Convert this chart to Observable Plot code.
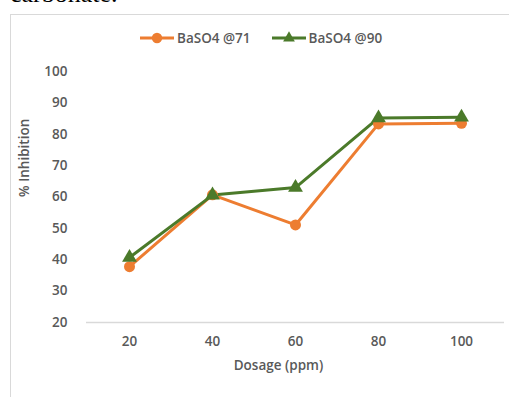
<!DOCTYPE html>
<html>
<head>
<meta charset="utf-8">
<script src="https://cdn.jsdelivr.net/npm/d3@7"></script>
<script src="https://cdn.jsdelivr.net/npm/@observablehq/plot@0.6"></script>
<style>
  html, body { margin: 0; padding: 0; background: #fff; }
  #page { position: relative; width: 509px; height: 397px; overflow: hidden; font-family: "Open Sans", sans-serif; }
  #doctext { position: absolute; left: 10px; top: -21px; font-family: "Liberation Serif", "Times New Roman", serif; font-size: 26px; color: #000; line-height: 30px; }
  #box { position: absolute; left: 10px; top: 14px; width: 520px; height: 400px; border: 1px solid #d9d9d9; box-sizing: border-box; }
  #chart { position: absolute; left: 0; top: 0; }
  #legend { position: absolute; top: 29px; left: 140px; display: flex; align-items: center; font-size: 13.5px; font-weight: 600; color: #595959; }
  #legend .item { display: flex; align-items: center; margin-right: 21px; }
  #legend svg { margin-right: 3px; }
</style>
</head>
<body>
<div id="page">
  <div id="doctext">carbonate.</div>
  <div id="box"></div>
  <div id="chart"></div>
  <div id="legend"></div>
</div>
<script>
const dosages = [20, 40, 60, 80, 100];
const seriesNames = ["BaSO4 @71", "BaSO4 @90"];
const inhibition71 = [37.8, 60.7, 51.1, 83.3, 83.5];
const inhibition90 = [40.7, 60.6, 63.0, 85.2, 85.4];
const yTicks = [20, 30, 40, 50, 60, 70, 80, 90, 100];
const colors = ["#ED7D31", "#4B7A2A"];
const symbols = ["circle", "triangle"];

const rows = [];
dosages.forEach((d, i) => {
  rows.push({dosage: d, value: inhibition71[i], series: seriesNames[0]});
});
dosages.forEach((d, i) => {
  rows.push({dosage: d, value: inhibition90[i], series: seriesNames[1]});
});

const textColor = "#595959";

const chart = Plot.plot({
  width: 509,
  height: 397,
  marginLeft: 86,
  marginRight: 5,
  marginTop: 71,
  marginBottom: 75,
  style: {background: "transparent", fontFamily: "Open Sans, sans-serif", fontSize: "13.5px", fontWeight: 600, color: textColor},
  x: {type: "point", domain: dosages, padding: 0.5},
  y: {domain: [20, 100]},
  color: {domain: seriesNames, range: colors},
  symbol: {domain: seriesNames, range: symbols},
  marks: [
    Plot.ruleY([20], {stroke: "#d9d9d9", strokeWidth: 1.5}),
    Plot.axisY({ticks: yTicks, tickSize: 0, tickPadding: 19, label: null, fill: textColor}),
    Plot.axisX({tickSize: 0, tickPadding: 14, label: null, fill: textColor}),
    Plot.text(["% Inhibition"], {frameAnchor: "left", rotate: -90, dx: -62, fill: textColor, fontSize: 13.5}),
    Plot.text(["Dosage (ppm)"], {frameAnchor: "bottom", dx: -17, dy: 47, fill: textColor, fontSize: 13.5}),
    Plot.line(rows, {x: "dosage", y: "value", z: "series", stroke: "series", strokeWidth: 3}),
    Plot.dot(rows, {x: "dosage", y: "value", fill: "series", symbol: "series", r: 5.5, stroke: "none"})
  ]
});
document.getElementById("chart").appendChild(chart);

// Legend
const legend = d3.select("#legend");
seriesNames.forEach((name, i) => {
  const item = legend.append("div").attr("class", "item");
  const s = item.append("svg").attr("width", 34).attr("height", 14);
  s.append("line").attr("x1", 0).attr("x2", 34).attr("y1", 7).attr("y2", 7)
    .attr("stroke", colors[i]).attr("stroke-width", 3);
  const sym = i === 0 ? d3.symbolCircle : d3.symbolTriangle;
  s.append("path").attr("d", d3.symbol(sym, i === 0 ? 85 : 60)())
    .attr("transform", "translate(17,7)").attr("fill", colors[i]);
  item.append("span").text(name);
});
</script>
</body>
</html>
